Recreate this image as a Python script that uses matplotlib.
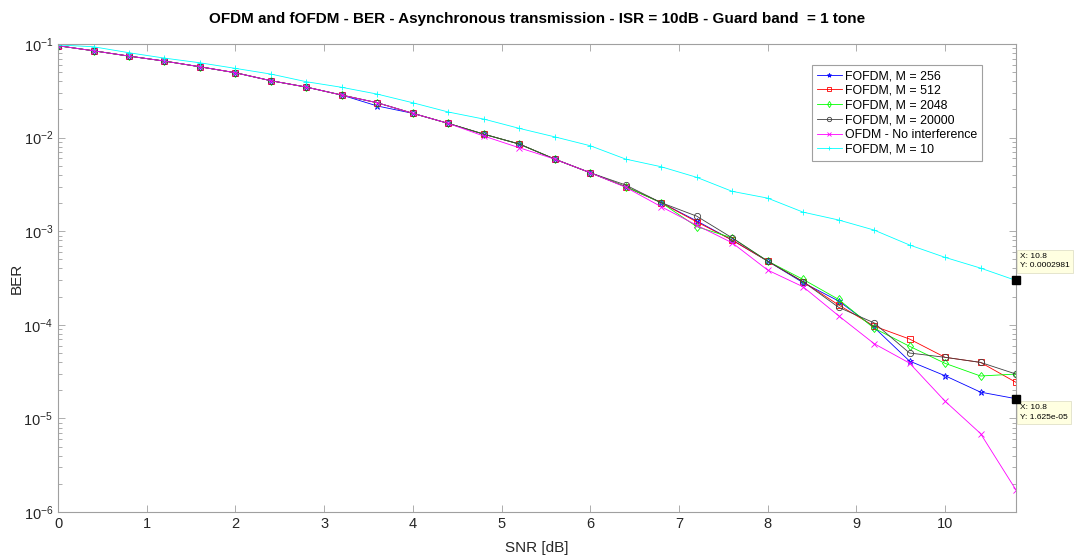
import numpy as np
import matplotlib
matplotlib.use("Agg")
import matplotlib.pyplot as plt
from matplotlib.ticker import LogLocator, FixedLocator, NullFormatter

plt.rcParams["font.family"] = ["Liberation Sans", "DejaVu Sans"]
plt.rcParams["mathtext.fontset"] = "custom"
plt.rcParams["mathtext.rm"] = "Liberation Sans"
plt.rcParams["mathtext.it"] = "Liberation Sans:italic"

snr = np.round(np.arange(28) * 0.4, 1)

ber_256 = [0.096, 0.0848, 0.0744, 0.0658, 0.0572, 0.0494, 0.0406, 0.0347, 0.0285, 0.0218,
           0.0182, 0.0142, 0.0109, 0.00855, 0.0059, 0.00422, 0.00299, 0.00202, 0.00129, 0.000805,
           0.00048, 0.000282, 0.000180, 9.4e-5, 4.1e-5, 2.86e-5, 1.91e-5, 1.625e-5]
ber_512 = [0.096, 0.0848, 0.0744, 0.0658, 0.0572, 0.0494, 0.0406, 0.0347, 0.0285, 0.0236,
           0.0182, 0.0142, 0.0109, 0.00855, 0.0059, 0.00422, 0.00299, 0.00202, 0.00126, 0.000805,
           0.00048, 0.000289, 0.000163, 9.7e-5, 7.05e-5, 4.5e-5, 3.97e-5, 2.43e-5]
ber_2048 = [0.096, 0.0848, 0.0744, 0.0658, 0.0572, 0.0494, 0.0406, 0.0347, 0.0285, 0.0236,
            0.0182, 0.0142, 0.0109, 0.00855, 0.0059, 0.00422, 0.00299, 0.00202, 0.00112, 0.00085,
            0.00048, 0.000306, 0.000187, 9.2e-5, 5.9e-5, 3.88e-5, 2.84e-5, 2.98e-5]
ber_20000 = [0.096, 0.0848, 0.0744, 0.0658, 0.0572, 0.0494, 0.0406, 0.0347, 0.0285, 0.0236,
             0.0182, 0.0142, 0.0109, 0.00855, 0.0059, 0.00422, 0.00312, 0.00202, 0.00145, 0.00085,
             0.00048, 0.000289, 0.000154, 1.05e-4, 5.0e-5, 4.5e-5, 3.97e-5, 2.98e-5]
ber_ofdm = [0.096, 0.0848, 0.0744, 0.0658, 0.0572, 0.0494, 0.0406, 0.0347, 0.0285, 0.0236,
            0.0182, 0.0142, 0.0104, 0.0078, 0.0059, 0.00422, 0.00295, 0.00183, 0.00116, 0.000753,
            0.000385, 0.000255, 0.000125, 6.3e-5, 3.9e-5, 1.53e-5, 6.9e-6, 1.72e-6]
ber_10 = [0.098, 0.0936, 0.0808, 0.0708, 0.0631, 0.055, 0.0478, 0.0396, 0.0345, 0.0292,
          0.0236, 0.0188, 0.0158, 0.01257, 0.0102, 0.0082, 0.0059, 0.00489, 0.00377, 0.00267,
          0.00226, 0.0016, 0.00132, 0.00103, 0.000713, 0.000526, 0.000404, 0.0002981]

series = [
    (ber_256, "FOFDM, M = 256", "#0000ff", "*"),
    (ber_512, "FOFDM, M = 512", "#ff0000", "s"),
    (ber_2048, "FOFDM, M = 2048", "#00ff00", "d"),
    (ber_20000, "FOFDM, M = 20000", "#404040", "o"),
    (ber_ofdm, "OFDM - No interference", "#ff00ff", "x"),
    (ber_10, "FOFDM, M = 10", "#00ffff", "+"),
]

fig = plt.figure(figsize=(10.79, 5.58), dpi=100)
ax = fig.add_axes([0.0538, 0.0824, 0.8878, 0.8386])

for y, label, col, mk in series:
    ax.plot(snr, y, color=col, marker=mk, markersize=4.5, linewidth=0.6,
            markerfacecolor="none", markeredgewidth=0.6, label=label)

ax.set_yscale("log")
ax.set_xlim(0, 10.8)
ax.set_ylim(1e-6, 1e-1)
ax.xaxis.set_major_locator(FixedLocator(range(0, 11)))
ax.yaxis.set_minor_locator(LogLocator(base=10, subs=np.arange(2, 10)))
ax.yaxis.set_minor_formatter(NullFormatter())
ax.tick_params(which="both", direction="in", top=True, right=True,
               colors="#262626", labelsize=10.5)
ax.tick_params(which="major", length=5, width=0.6, color="#a0a0a0")
ax.tick_params(which="minor", length=3, width=0.6, color="#a0a0a0")
for sp in ax.spines.values():
    sp.set_color("#a0a0a0")
    sp.set_linewidth(0.8)

ax.set_xlabel("SNR [dB]", fontsize=11, color="#262626", labelpad=7)
ax.set_ylabel("BER", fontsize=11, color="#262626", labelpad=0)
ax.set_title("OFDM and fOFDM - BER - Asynchronous transmission - ISR = 10dB - Guard band  = 1 tone",
             fontsize=11, fontweight="bold", color="black", pad=15)

leg = ax.legend(loc="upper right", bbox_to_anchor=(0.9645, 0.955), fontsize=8.9,
                fancybox=False, edgecolor="#a0a0a0", framealpha=1, borderaxespad=0,
                handlelength=2.0, handletextpad=0.25, labelspacing=0.22, borderpad=0.4,
                markerscale=0.7)
leg.get_frame().set_linewidth(0.8)

# data tips
tips = [(ber_10[-1], "X: 10.8\nY: 0.0002981", (3, 8), "bottom"),
        (ber_256[-1], "X: 10.8\nY: 1.625e-05", (3, -4), "top")]
for yv, txt, off, va in tips:
    ax.plot([snr[-1]], [yv], marker="s", color="black", markersize=5.5, clip_on=False, zorder=5)
    ax.annotate(txt, xy=(snr[-1], yv), xytext=off, textcoords="offset points",
                fontsize=6, va=va, ha="left", annotation_clip=False, linespacing=1.5,
                bbox=dict(boxstyle="square,pad=0.4", fc="#ffffe1", ec="#e0e0c8", lw=0.6))

fig.savefig("out.png", dpi=100, facecolor="white")
